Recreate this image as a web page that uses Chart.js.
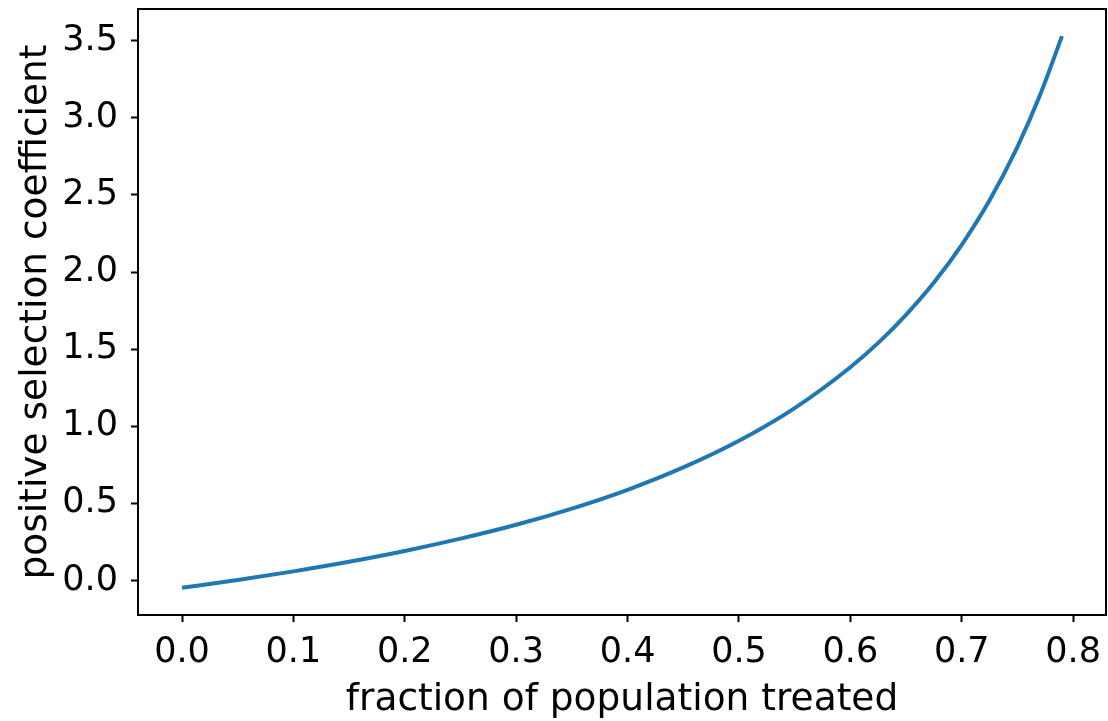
<!DOCTYPE html>
<html>
<head>
<meta charset="utf-8">
<script src="https://cdn.jsdelivr.net/npm/chart.js@4/dist/chart.umd.min.js"></script>
<style>
  body { margin: 0; background: #fff; }
</style>
</head>
<body>
<canvas id="chart" width="1108" height="721"></canvas>
<script>
'use strict';

// values
let fractionTreated = [0, 0.05, 0.1, 0.15, 0.2, 0.25, 0.3, 0.35, 0.4, 0.45, 0.5, 0.55, 0.6, 0.625, 0.65, 0.675, 0.7, 0.725, 0.75, 0.77, 0.79];
let selectionCoeff = [-0.047, 0.003, 0.059, 0.121, 0.191, 0.271, 0.361, 0.466, 0.588, 0.733, 0.906, 1.118, 1.383, 1.541, 1.723, 1.932, 2.177, 2.465, 2.812, 3.143, 3.53];
let xTicks = [0, 0.1, 0.2, 0.3, 0.4, 0.5, 0.6, 0.7, 0.8];
let yTicks = [0, 0.5, 1, 1.5, 2, 2.5, 3, 3.5];

let canvasElem = document.getElementById('chart');

let points = [];
for (let i = 0; i < fractionTreated.length; i++) {
  points.push({ x: fractionTreated[i], y: selectionCoeff[i] });
}

// matplotlib style closed frame
let framePlugin = {
  id: 'frame',
  afterDraw(chart) {
    let a = chart.chartArea;
    let ctx = chart.ctx;
    ctx.save();
    ctx.strokeStyle = '#000';
    ctx.lineWidth = 2;
    ctx.strokeRect(a.left, a.top, a.right - a.left, a.bottom - a.top);
    ctx.restore();
  }
};

let tickFont = { family: 'DejaVu Sans', size: 35 };
let titleFont = { family: 'DejaVu Sans', size: 37.5 };

new Chart(canvasElem, {
  type: 'line',
  data: {
    datasets: [{
      data: points,
      borderColor: '#1f77b4',
      borderWidth: 4,
      pointRadius: 0,
      cubicInterpolationMode: 'monotone',
      fill: false
    }]
  },
  options: {
    responsive: false,
    animation: false,
    layout: { padding: { top: 9, right: 2, left: 0, bottom: 0 } },
    plugins: {
      legend: { display: false },
      tooltip: { enabled: false }
    },
    scales: {
      x: {
        type: 'linear',
        min: -0.0395,
        max: 0.8295,
        afterFit(scale) {
          scale.height = 106;
          scale.paddingLeft = 0;
          scale.paddingRight = 0;
        },
        afterBuildTicks(scale) { scale.ticks = xTicks.map(v => ({ value: v })); },
        grid: { display: true, drawOnChartArea: false, tickLength: 7, tickWidth: 2, color: '#000' },
        border: { display: true, color: '#000', width: 2 },
        ticks: {
          color: '#000',
          font: tickFont,
          padding: 10,
          maxRotation: 0,
          autoSkip: false,
          callback: v => v.toFixed(1)
        },
        title: {
          display: true,
          text: 'fraction of population treated',
          color: '#000',
          font: titleFont,
          padding: { top: 0, bottom: -2 }
        }
      },
      y: {
        type: 'linear',
        min: -0.224,
        max: 3.706,
        afterFit(scale) {
          scale.width = 138;
          scale.paddingTop = 0;
          scale.paddingBottom = 0;
        },
        afterBuildTicks(scale) { scale.ticks = yTicks.map(v => ({ value: v })); },
        grid: { display: true, drawOnChartArea: false, tickLength: 7, tickWidth: 2, color: '#000' },
        border: { display: true, color: '#000', width: 2 },
        ticks: {
          color: '#000',
          font: tickFont,
          padding: 13,
          autoSkip: false,
          callback: v => v.toFixed(1)
        },
        title: {
          display: true,
          text: 'positive selection coefficient',
          color: '#000',
          font: titleFont,
          padding: { top: 14, bottom: 0 }
        }
      }
    }
  },
  plugins: [framePlugin]
});
</script>
</body>
</html>
